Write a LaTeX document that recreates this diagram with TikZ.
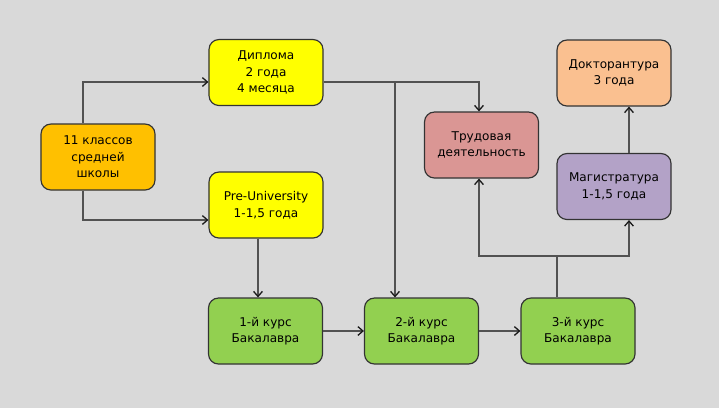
\documentclass[tikz,border=0pt]{standalone}
\usepackage{fontspec}
\setmainfont{DejaVu Sans}
\usetikzlibrary{arrows.meta,positioning}

\definecolor{bggray}{HTML}{D9D9D9}
\definecolor{schoolorange}{HTML}{FFC000}
\definecolor{prepyellow}{HTML}{FFFF00}
\definecolor{jobrose}{HTML}{DA9694}
\definecolor{doctpeach}{HTML}{FAC090}
\definecolor{maglilac}{HTML}{B3A2C7}
\definecolor{bachgreen}{HTML}{92D050}

\begin{document}
\begin{tikzpicture}[x=0.03cm, y=-0.03cm,
        box/.style={rectangle, rounded corners=0.3cm, draw=black!80, line width=1pt, minimum width=3.42cm, minimum height=1.98cm, inner sep=0pt, text centered, align=center, font=\fontsize{10.3}{14.2}\selectfont},
        school/.style={box, fill=schoolorange},
        prep/.style={box, fill=prepyellow},
        jobbox/.style={box, fill=jobrose},
        doctbox/.style={box, fill=doctpeach},
        magbox/.style={box, fill=maglilac},
        bach/.style={box, fill=bachgreen},
        wire/.style={line width=1.1pt, draw=black!68},
        link/.style={wire, -{Straight Barb[length=4.3pt, width=7.5pt, line width=1.1pt, color=black!90]}},
    ]
        \fill[bggray] (0,0) rectangle (719,408);
        \useasboundingbox (0,0) rectangle (719,408);

        % School and first steps
        \node[school] (school) at (98,157) {11 классов\\средней\\школы};
        \node[prep] (dipl) at (266,72.5) {Диплома\\2 года\\4 месяца};
        \node[prep] (preu) at (266,205) {Pre-University\\1-1,5 года};

        % Bachelor
        \node[bach] (k1) at (265.5,331) {1-й курс\\Бакалавра};
        \node[bach] (k2) at (421.5,331) {2-й курс\\Бакалавра};
        \node[bach] (k3) at (578,331) {3-й курс\\Бакалавра};

        % After the bachelor
        \node[jobbox] (job) at (481.5,145) {Трудовая\\деятельность};
        \node[magbox] (mag) at (614,186.5) {Магистратура\\1-1,5 года};
        \node[doctbox] (doct) at (614,73) {Докторантура\\3 года};

        % Bend points
        \coordinate (up) at (83,82);
        \coordinate (down) at (83,220);
        \coordinate (fork) at (395,82);
        \coordinate (jobin) at (479,82);
        \coordinate (pdrop) at (258,0);
        \coordinate (branch) at (557,256);
        \coordinate (jobout) at (479,256);
        \coordinate (magin) at (629,256);

        \draw[link] (school.north -| up) |- (dipl.west |- up);
        \draw[link] (school.south -| down) |- (preu.west |- down);
        \draw[link] (dipl.east |- up) -- (jobin) -- (job.north -| jobin);
        \draw[link] (fork) -- (k2.north -| fork);
        \draw[link] (preu.south -| pdrop) -- (k1.north -| pdrop);
        \draw[link] (k1.east) -- (k2.west);
        \draw[link] (k2.east) -- (k3.west);
        \draw[wire] (k3.north -| branch) -- (branch);
        \draw[link] (branch) -- (jobout) -- (job.south -| jobout);
        \draw[link] (branch) -- (magin) -- (mag.south -| magin);
        \draw[link] (mag.north -| magin) -- (doct.south -| magin);
    \end{tikzpicture}
\end{document}
